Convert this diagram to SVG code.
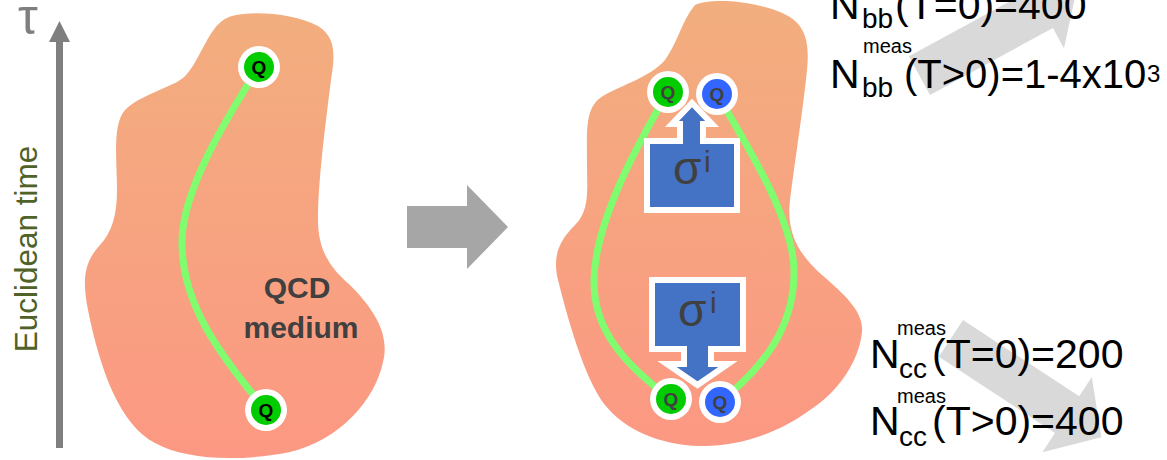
<svg xmlns="http://www.w3.org/2000/svg" width="1167" height="460" viewBox="0 0 1167 460">
  <defs>
    <linearGradient id="medium" x1="0" y1="0" x2="0" y2="1">
      <stop offset="0" stop-color="#f2ae7e"/>
      <stop offset="1" stop-color="#fc9883"/>
    </linearGradient>
    <style>
      .blob { fill: url(#medium); }
      .string { fill: none; stroke: #80fd6e; stroke-width: 7; stroke-linecap: round; }
      .ring { fill: #ffffff; }
      .qg { fill: #00cc00; }
      .qb { fill: #3366ff; }
      .qlabel { font-family: "Liberation Sans", Arial, sans-serif; font-weight: bold; font-size: 19px; text-anchor: middle; }
      .callout { fill: #4472c4; stroke: #ffffff; stroke-width: 6; stroke-linejoin: miter; }
      .sigma { font-family: "Liberation Sans", Arial, sans-serif; fill: #404040; }
      .count { font-family: "Liberation Sans", Arial, sans-serif; fill: #000000; }
      .hint { fill: #d9d9d9; }
    </style>
  </defs>

  <!-- time axis -->
  <g id="time-axis">
    <text x="18" y="34" font-family="Liberation Sans, Arial, sans-serif" font-size="50" fill="#7f7f7f">τ</text>
    <rect x="56" y="40" width="7" height="408" fill="#7f7f7f"/>
    <polygon points="49,42 59.5,21 70,42" fill="#7f7f7f"/>
    <text transform="translate(37,249) rotate(-90)" text-anchor="middle" font-family="Liberation Sans, Arial, sans-serif" font-size="31.5" fill="#4f6228">Euclidean time</text>
  </g>

  <!-- single heavy quark in the medium -->
  <g id="medium-left">
    <path class="blob" d="M232,16 C255,10 295,14 318,26 C338,38 334,60 331,80 C326,120 318,180 318,220 C318,250 330,268 350,285 C375,310 390,335 383,362 C375,400 340,440 290,452 C240,462 185,460 155,443 C120,425 100,370 88,310 C82,280 84,262 100,245 C112,232 117,215 117,190 C117,160 112,125 125,110 C140,95 170,88 183,78 C195,68 205,40 215,28 C220,22 225,18 232,16 Z"/>
    <text x="297" y="298" text-anchor="middle" font-family="Liberation Sans, Arial, sans-serif" font-weight="bold" font-size="30" fill="#404040">QCD</text>
    <text x="301" y="338" text-anchor="middle" font-family="Liberation Sans, Arial, sans-serif" font-weight="bold" font-size="30" fill="#404040">medium</text>
  </g>

  <!-- transition arrow -->
  <g id="step-arrow">
    <polygon points="407,206 467,206 467,185 508,227 467,269 467,248 407,248" fill="#a6a6a6"/>
  </g>

  <!-- correlator in the medium -->
  <g id="medium-right">
    <path class="blob" d="M695,5 C710,-2 750,0 780,12 C805,22 810,40 807,70 C803,110 795,160 790,200 C786,235 800,255 822,275 C845,295 864,312 862,332 C859,362 838,392 810,410 C780,432 740,447 700,446 C660,445 625,430 605,405 C585,380 568,320 558,280 C552,255 560,240 575,225 C590,210 587,190 587,165 C587,130 585,110 600,98 C615,87 650,78 665,60 C678,42 682,20 695,5 Z"/>
  </g>

  <!-- direction hints behind the counts -->
  <g id="hints">
    <path class="hint" transform="translate(930,95) rotate(-28.6)" d="M0,0 L140,0 L140,23 L179,-22 L140,-67 L140,-44 L0,-44 Z"/>
    <path class="hint" transform="translate(963,320) rotate(33.3)" d="M0,0 L139,0 L139,-23 L180,22 L139,67 L139,44 L0,44 Z"/>
  </g>

  <!-- quark strings -->
  <g id="connectors">
    <path class="string" d="M259,67 C225,120 183,190 182,240 C181,300 215,350 266,410"/>
    <path class="string" d="M668,92 C640,140 595,220 594,280 C593,330 625,365 671,399"/>
    <path class="string" d="M717,94 C750,150 793,220 794,270 C795,330 760,370 720,402"/>
  </g>

  <!-- operator insertions -->
  <g id="sigma-top">
    <path class="callout" d="M647,141 L680,141 L680,124 L672,124 L692,103 L712,124 L703,124 L703,141 L737,141 L737,210 L647,210 Z"/>
    <text class="sigma" x="673" y="184" font-size="46">σ</text>
    <text class="sigma" x="704" y="172" font-size="30">i</text>
  </g>
  <g id="sigma-bottom">
    <path class="callout" d="M652,280 L743,280 L743,349 L711,349 L711,364 L728,364 L697.5,385 L667,364 L684,364 L684,349 L652,349 Z"/>
    <text class="sigma" x="678" y="326" font-size="46">σ</text>
    <text class="sigma" x="710" y="313" font-size="30">i</text>
  </g>

  <!-- quarks -->
  <g id="q-left-top">
    <circle class="ring" cx="259" cy="67" r="21"/>
    <circle class="qg" cx="259" cy="67" r="15"/>
    <text class="qlabel" x="259" y="73.5" fill="#000000">Q</text>
  </g>
  <g id="q-left-bottom">
    <circle class="ring" cx="266" cy="410" r="21"/>
    <circle class="qg" cx="266" cy="410" r="15"/>
    <text class="qlabel" x="266" y="416.5" fill="#000000">Q</text>
  </g>
  <g id="q-right-top-green">
    <circle class="ring" cx="668" cy="92" r="21"/>
    <circle class="qg" cx="668" cy="92" r="15"/>
    <text class="qlabel" x="668" y="98.5" fill="#404040">Q</text>
  </g>
  <g id="q-right-top-blue">
    <circle class="ring" cx="717" cy="94" r="21"/>
    <circle class="qb" cx="717" cy="94" r="15"/>
    <text class="qlabel" x="717" y="100.5" fill="#404040">Q</text>
  </g>
  <g id="q-right-bottom-green">
    <circle class="ring" cx="671" cy="399" r="21"/>
    <circle class="qg" cx="671" cy="399" r="15"/>
    <text class="qlabel" x="671" y="405.5" fill="#404040">Q</text>
  </g>
  <g id="q-right-bottom-blue">
    <circle class="ring" cx="720" cy="402" r="21"/>
    <circle class="qb" cx="720" cy="402" r="15"/>
    <text class="qlabel" x="720" y="408.5" fill="#404040">Q</text>
  </g>

  <!-- measured counts -->
  <g id="counts-bb">
    <text class="count" x="830" y="19" font-size="41">N</text>
    <text class="count" x="862" y="28" font-size="28">bb</text>
    <text class="count" x="895" y="19" font-size="41">(T=0)=400</text>
    <text class="count" x="863" y="53" font-size="20">meas</text>
    <text class="count" x="830" y="88" font-size="41">N</text>
    <text class="count" x="862" y="97" font-size="28">bb</text>
    <text class="count" x="904" y="88" font-size="40">(T&gt;0)=1-4x10</text>
    <text class="count" x="1147" y="82" font-size="24">3</text>
  </g>
  <g id="counts-cc">
    <text class="count" x="897" y="335" font-size="20">meas</text>
    <text class="count" x="870" y="368" font-size="41">N</text>
    <text class="count" x="899" y="378" font-size="28">cc</text>
    <text class="count" x="932" y="368" font-size="41">(T=0)=200</text>
    <text class="count" x="897" y="403" font-size="20">meas</text>
    <text class="count" x="870" y="435" font-size="41">N</text>
    <text class="count" x="899" y="446" font-size="28">cc</text>
    <text class="count" x="932" y="435" font-size="41">(T&gt;0)=400</text>
  </g>
</svg>
